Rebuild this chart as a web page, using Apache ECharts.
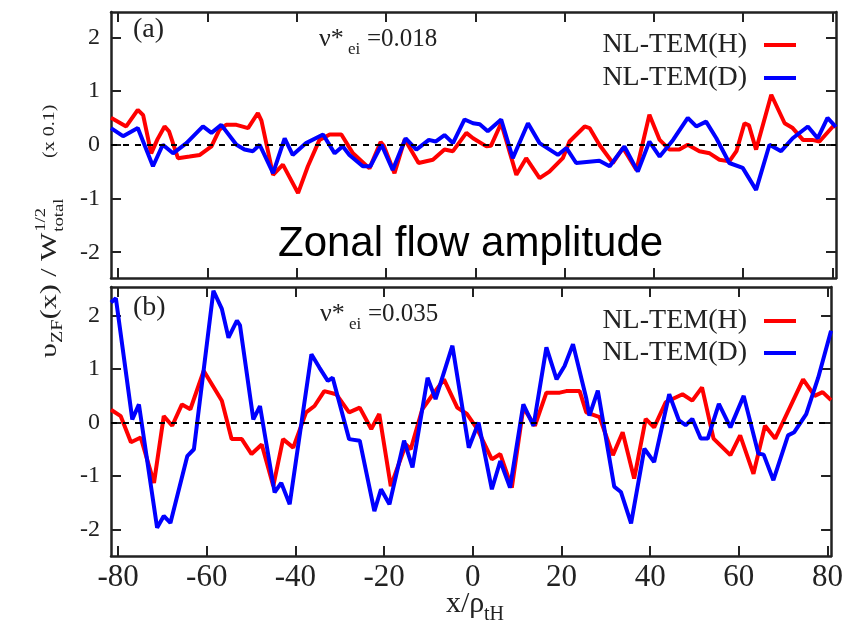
<!DOCTYPE html>
<html>
<head>
<meta charset="utf-8">
<script src="https://cdn.jsdelivr.net/npm/echarts@6/dist/echarts.min.js"></script>
<style>
  html, body { margin: 0; padding: 0; background: #fff; }
  #chart { width: 846px; height: 629px; }
</style>
</head>
<body>
<div id="chart"></div>
<script>
// x positions are in x/rho_tH, values in units of 0.1
const xTicks = [-80, -60, -40, -20, 0, 20, 40, 60, 80];
const yTicks = [-2, -1, 0, 1, 2];

// panel (a), nu*ei = 0.018
const aHx = [-81.6, -78.2, -75.6, -74.4, -72.6, -71.2, -69.6, -68.6, -66.6, -64.0, -61.7, -59.1, -57.3, -55.8, -53.5, -50.9, -48.7, -47.9, -45.3, -43.1, -39.7, -37.5, -34.9, -32.6, -30.0, -27.4, -23.7, -21.2, -20.5, -18.1, -15.8, -12.7, -9.5, -6.9, -5.0, -2.0, -0.5, 2.5, 3.5, 5.8, 9.2, 11.4, 14.4, 16.6, 19.6, 21.1, 24.5, 25.6, 27.8, 30.8, 33.1, 36.1, 39.0, 41.3, 43.5, 45.7, 47.6, 50.2, 52.5, 54.7, 56.9, 58.5, 60.3, 61.3, 62.9, 66.3, 69.3, 71.1, 73.4, 75.5, 77.1, 80.1, 80.8];
const aHy = [0.50, 0.34, 0.65, 0.55, -0.16, 0.10, 0.34, 0.25, -0.25, -0.22, -0.19, -0.03, 0.28, 0.37, 0.37, 0.31, 0.59, 0.45, -0.56, -0.37, -0.90, -0.40, 0.09, 0.19, 0.19, -0.16, -0.44, 0.05, -0.02, -0.53, 0.10, -0.34, -0.28, -0.09, -0.12, 0.22, 0.12, -0.03, -0.02, 0.40, -0.56, -0.25, -0.62, -0.50, -0.25, 0.06, 0.34, 0.31, 0.00, -0.34, -0.06, -0.47, 0.56, 0.09, -0.09, -0.09, 0.00, -0.12, -0.16, -0.28, -0.31, -0.12, 0.40, 0.36, -0.09, 0.93, 0.40, 0.31, 0.09, 0.09, 0.06, 0.34, 0.35];
const aDx = [-81.6, -78.9, -75.6, -72.2, -70.0, -67.7, -64.7, -61.0, -59.1, -56.9, -53.5, -51.7, -49.8, -48.3, -45.3, -42.7, -40.9, -37.9, -34.1, -31.5, -29.7, -28.2, -25.2, -23.5, -21.0, -18.5, -15.6, -13.2, -10.4, -8.9, -6.9, -5.0, -2.4, -0.5, 1.0, 2.8, 5.8, 8.4, 11.8, 14.4, 18.5, 20.4, 22.6, 27.8, 30.1, 33.4, 36.4, 39.0, 41.3, 44.3, 47.6, 49.5, 51.7, 54.0, 56.9, 59.9, 62.9, 65.9, 68.5, 71.1, 74.5, 76.7, 78.9, 80.8];
const aDy = [0.31, 0.16, 0.31, -0.40, 0.00, -0.16, 0.03, 0.34, 0.22, 0.37, 0.00, -0.09, -0.12, 0.00, -0.53, 0.12, -0.19, 0.03, 0.19, -0.16, -0.03, -0.19, -0.40, -0.40, 0.00, -0.47, 0.12, -0.09, 0.09, 0.06, 0.18, 0.03, 0.47, 0.40, 0.38, 0.25, 0.47, -0.25, 0.40, 0.03, -0.19, -0.06, -0.34, -0.30, -0.40, -0.03, -0.50, 0.06, -0.22, 0.09, 0.50, 0.34, 0.43, 0.12, -0.34, -0.43, -0.84, 0.00, -0.12, 0.12, 0.34, 0.12, 0.50, 0.33];

// panel (b), nu*ei = 0.035
const bHx = [-81.6, -79.4, -77.1, -74.9, -71.9, -69.7, -67.8, -65.6, -63.7, -60.7, -56.6, -54.4, -52.1, -49.9, -47.6, -45.0, -42.8, -40.5, -37.6, -35.7, -33.5, -30.8, -27.9, -25.5, -22.9, -21.1, -18.5, -15.1, -14.0, -11.4, -9.5, -6.5, -3.5, -1.3, 1.0, 4.3, 6.2, 8.8, 11.4, 14.0, 16.6, 19.6, 21.1, 24.1, 25.6, 28.6, 31.6, 33.8, 36.4, 39.0, 40.9, 43.5, 47.3, 49.5, 51.7, 54.3, 58.1, 60.3, 63.3, 65.9, 68.2, 74.5, 77.1, 78.9, 80.8];
const bHy = [0.24, 0.12, -0.37, -0.28, -1.13, 0.12, -0.06, 0.34, 0.25, 0.97, 0.41, -0.31, -0.31, -0.59, -0.41, -1.19, -0.31, -0.47, 0.19, 0.31, 0.59, 0.53, 0.19, 0.28, -0.12, 0.16, -1.19, -0.41, -0.50, 0.25, 0.47, 0.81, 0.28, 0.16, -0.12, -0.69, -0.59, -1.22, 0.28, -0.06, 0.56, 0.56, 0.59, 0.59, 0.19, 0.10, -0.61, -0.18, -1.05, 0.07, -0.09, 0.38, 0.53, 0.41, 0.66, -0.30, -0.61, -0.24, -0.96, -0.06, -0.30, 0.81, 0.50, 0.57, 0.42];
const bDx = [-81.6, -80.5, -76.8, -75.3, -71.2, -69.7, -68.2, -64.4, -62.9, -58.5, -56.6, -55.1, -53.2, -52.5, -49.5, -48.0, -44.7, -43.2, -41.3, -36.4, -34.6, -32.7, -31.6, -27.9, -25.5, -22.2, -20.7, -18.8, -15.5, -13.6, -10.2, -8.4, -4.6, -0.9, 1.3, 4.3, 6.2, 8.4, 11.4, 13.7, 16.6, 18.9, 20.7, 22.6, 25.6, 26.3, 28.2, 31.9, 33.4, 35.7, 38.7, 40.9, 44.3, 46.5, 48.0, 49.5, 51.4, 53.0, 55.5, 58.1, 61.1, 64.4, 65.6, 67.8, 71.1, 72.5, 75.2, 77.9, 80.8];
const bDy = [2.25, 2.33, 0.06, 0.34, -1.97, -1.75, -1.88, -0.63, -0.50, 2.47, 2.13, 1.59, 1.91, 1.82, 0.06, 0.31, -1.31, -1.13, -1.53, 1.28, 1.03, 0.78, 0.84, -0.31, -0.34, -1.66, -1.25, -1.53, -0.34, -0.84, 0.84, 0.44, 1.44, -0.47, 0.00, -1.25, -0.72, -1.22, 0.34, -0.06, 1.41, 0.81, 1.06, 1.47, 0.45, 0.13, 0.60, -1.20, -1.30, -1.89, -0.49, -0.74, 0.53, 0.04, -0.05, 0.07, -0.30, -0.30, 0.35, -0.09, 0.50, -0.58, -0.60, -1.08, -0.24, -0.18, 0.16, 0.84, 1.72];

const X_MIN = -81.6, X_MAX = 80.8;
const SERIF = 'Liberation Serif';
const INK = '#222';

function pairs(xs, ys) {
  return xs.map((x, i) => [x, ys[i]]);
}

function xAxisFor(grid, pos, labels) {
  return {
    type: 'value', gridIndex: grid, position: pos, min: X_MIN, max: X_MAX,
    axisLine: {show: true, onZero: false, lineStyle: {color: INK, width: 2.5}},
    axisTick: {show: true, inside: true, length: 10, customValues: xTicks, lineStyle: {color: INK, width: 2}},
    axisLabel: {show: labels, customValues: xTicks, margin: 6, fontFamily: SERIF, fontSize: 31, color: INK},
    splitLine: {show: false}
  };
}

function yAxisFor(grid, pos, labels, min, max) {
  return {
    type: 'value', gridIndex: grid, position: pos, min: min, max: max,
    axisLine: {show: true, onZero: false, lineStyle: {color: INK, width: 2.5}},
    axisTick: {show: true, inside: true, length: 10, customValues: yTicks, lineStyle: {color: INK, width: 2}},
    axisLabel: {show: labels, customValues: yTicks, margin: 11, fontFamily: SERIF, fontSize: 24, color: INK},
    splitLine: {show: false}
  };
}

function curve(name, color, xi, yi, data, zero) {
  let s = {
    name: name, type: 'line', xAxisIndex: xi, yAxisIndex: yi,
    data: data, symbol: 'none', color: color,
    lineStyle: {color: color, width: 4}
  };
  if (zero) {
    s.markLine = {
      silent: true, symbol: ['none', 'none'], label: {show: false},
      lineStyle: {color: '#000', type: [6, 6], width: 2},
      data: [{yAxis: 0}]
    };
  }
  return s;
}

function legendAt(top, gap) {
  return {
    data: ['NL-TEM(H)', 'NL-TEM(D)'], orient: 'vertical', align: 'right',
    right: 45, top: top, itemGap: gap, itemWidth: 32, itemHeight: 4, icon: 'rect',
    selectedMode: false,
    textStyle: {fontFamily: SERIF, fontSize: 28, color: INK, lineHeight: 28, padding: [0, 12, 0, 0]}
  };
}

function txt(x, y, text, size, family, color) {
  return {
    type: 'text', x: x, y: y,
    style: {text: text, fontSize: size, fontFamily: family || SERIF, fill: color || INK, textAlign: 'left', textVerticalAlign: 'middle'}
  };
}

let myChart = echarts.init(document.getElementById('chart'));

let option = {
  animation: false,
  backgroundColor: '#fff',
  grid: [
    {left: 111, right: 10, top: 12, height: 266},
    {left: 111, right: 10, top: 287, height: 269}
  ],
  xAxis: [
    xAxisFor(0, 'bottom', false),
    xAxisFor(0, 'top', false),
    xAxisFor(1, 'bottom', true),
    xAxisFor(1, 'top', false)
  ],
  yAxis: [
    yAxisFor(0, 'left', true, -2.48, 2.47),
    yAxisFor(0, 'right', false, -2.48, 2.47),
    yAxisFor(1, 'left', true, -2.5, 2.54),
    yAxisFor(1, 'right', false, -2.5, 2.54)
  ],
  legend: [legendAt(26, 5), legendAt(302, 4)],
  series: [
    curve('NL-TEM(H)', '#ff0000', 0, 0, pairs(aHx, aHy), true),
    curve('NL-TEM(D)', '#0000ff', 0, 0, pairs(aDx, aDy), false),
    curve('NL-TEM(H)', '#ff0000', 2, 2, pairs(bHx, bHy), true),
    curve('NL-TEM(D)', '#0000ff', 2, 2, pairs(bDx, bDy), false)
  ],
  graphic: [
    // panel labels
    txt(133, 30, '(a)', 28),
    txt(319, 39, 'ν*', 26),
    txt(348, 50, 'ei', 17),
    txt(367, 39, '=0.018', 25),
    txt(133, 308, '(b)', 28),
    txt(320, 314, 'ν*', 26),
    txt(349, 325, 'ei', 17),
    txt(368, 314, '=0.035', 25),
    txt(278, 244, 'Zonal flow amplitude', 42, 'Liberation Sans', '#000'),
    // x axis title
    txt(446, 604, 'x/ρ', 30),
    txt(484, 615, 'tH', 20),
    // y axis title, rotated to read bottom-up
    {
      type: 'group', x: 50, y: 358, rotation: Math.PI / 2, scaleX: 1.25,
      children: [
        txt(0, 0, 'υ', 24),
        txt(12, 8, 'ZF', 16),
        txt(31, 0, '(x) / W', 24),
        txt(101, -9, '1/2', 15),
        txt(101, 9, 'total', 15),
        txt(160, 0, '(x 0.1)', 16)
      ]
    }
  ]
};

myChart.setOption(option);
</script>
</body>
</html>
